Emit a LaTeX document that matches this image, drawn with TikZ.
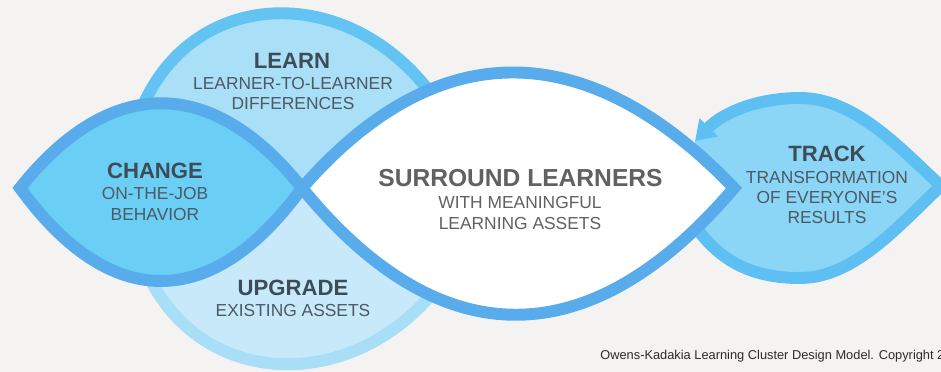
\documentclass[tikz,border=0pt]{standalone}
\usepackage{fontspec}
\setmainfont{Liberation Sans}
\usepackage{tikz}
\usetikzlibrary{arrows.meta}
\definecolor{paper}{HTML}{F5F3F2}
\definecolor{ringline}{HTML}{58ACEB}
\definecolor{changefill}{HTML}{6BCFF5}
\definecolor{learnfill}{HTML}{A9DFF7}
\definecolor{learnline}{HTML}{63C4F3}
\definecolor{upgradefill}{HTML}{C8E9F9}
\definecolor{upgradeline}{HTML}{A8DEF6}
\definecolor{trackfill}{HTML}{8BD6F6}
\definecolor{trackline}{HTML}{5EBFF3}
\definecolor{headtext}{HTML}{3E4C57}
\definecolor{subtext}{HTML}{4D5963}
\definecolor{greytext}{HTML}{616161}
\definecolor{credittext}{HTML}{2B2B2B}
\tikzset{%
    >={Triangle[width=14pt,length=11pt]},
    lens/.style={line width=6.8pt},
    headtxt/.style={font=\bfseries\fontsize{12.6}{15}\selectfont, text=headtext, inner sep=0pt},
    subtxt/.style={font=\fontsize{9.9}{11.6}\selectfont, text=subtext, align=center, inner sep=0pt}
}
\begin{document}
\begin{tikzpicture}[x=0.02cm,y=-0.02cm]
        \useasboundingbox (0,0) rectangle (941,372);
        \fill[paper] (0,0) rectangle (941,372);

        \fill[learnfill] (125,188) .. controls (135,-45) and (415,-45) .. (475,188) -- cycle;
        \draw[lens,learnline] (125,188) .. controls (135,-45) and (415,-45) .. (475,188);

        \fill[upgradefill] (128,188) .. controls (138,423) and (425,423) .. (485,188) -- cycle;
        \draw[lens,upgradeline] (128,188) .. controls (138,423) and (425,423) .. (485,188);

        \fill[trackfill] (695,141) .. controls (725,111) and (760,98) .. (800,98)
            .. controls (855,98) and (900,148) .. (941,186)
            .. controls (900,224) and (855,278) .. (800,278)
            .. controls (750,278) and (715,260) .. (688,215) -- cycle;
        \draw[lens,trackline] (941,186) .. controls (900,224) and (855,278) .. (800,278)
            .. controls (750,278) and (715,260) .. (688,215);

        \draw[lens,ringline,fill=changefill] (20,188) .. controls (110,75) and (212,75) .. (302,188)
            .. controls (212,312) and (110,312) .. cycle;
        \draw[lens,ringline,fill=white] (302,188) .. controls (440,30) and (590,38) .. (734,188)
            .. controls (590,357) and (440,357) .. cycle;
        \draw[lens,trackline,->] (941,186) .. controls (900,148) and (855,98) .. (800,98)
            .. controls (760,98) and (725,111) .. (695,141);

        \node[headtxt] (learnhead) at (292,60.5) {LEARN};
        \node[subtxt] (learnsub) at (293,93.5) {LEARNER-TO-LEARNER\\DIFFERENCES};
        \node[headtxt] (changehead) at (155,171) {CHANGE};
        \node[subtxt] (changesub) at (155,204) {ON-THE-JOB\\BEHAVIOR};
        \node[headtxt] (upgradehead) at (293,288) {UPGRADE};
        \node[subtxt] (upgradesub) at (293,310.5) {EXISTING ASSETS};
        \node[headtxt, font=\bfseries\fontsize{14}{16}\selectfont, text=greytext] (surroundhead) at (520.5,178.5) {SURROUND LEARNERS};
        \node[subtxt, text=greytext] (surroundsub) at (520,213) {WITH MEANINGFUL\\LEARNING ASSETS};
        \node[headtxt] (trackhead) at (827,154) {TRACK};
        \node[subtxt] (tracksub) at (827,197.5) {TRANSFORMATION\\OF EVERYONE’S\\RESULTS};

        \node[anchor=base west, inner sep=0pt, font=\fontsize{7.3}{8.7}\selectfont, text=credittext] (credit) at (600,359) {Owens-Kadakia Learning Cluster Design Model. Copyright 20};
    \end{tikzpicture}
\end{document}
